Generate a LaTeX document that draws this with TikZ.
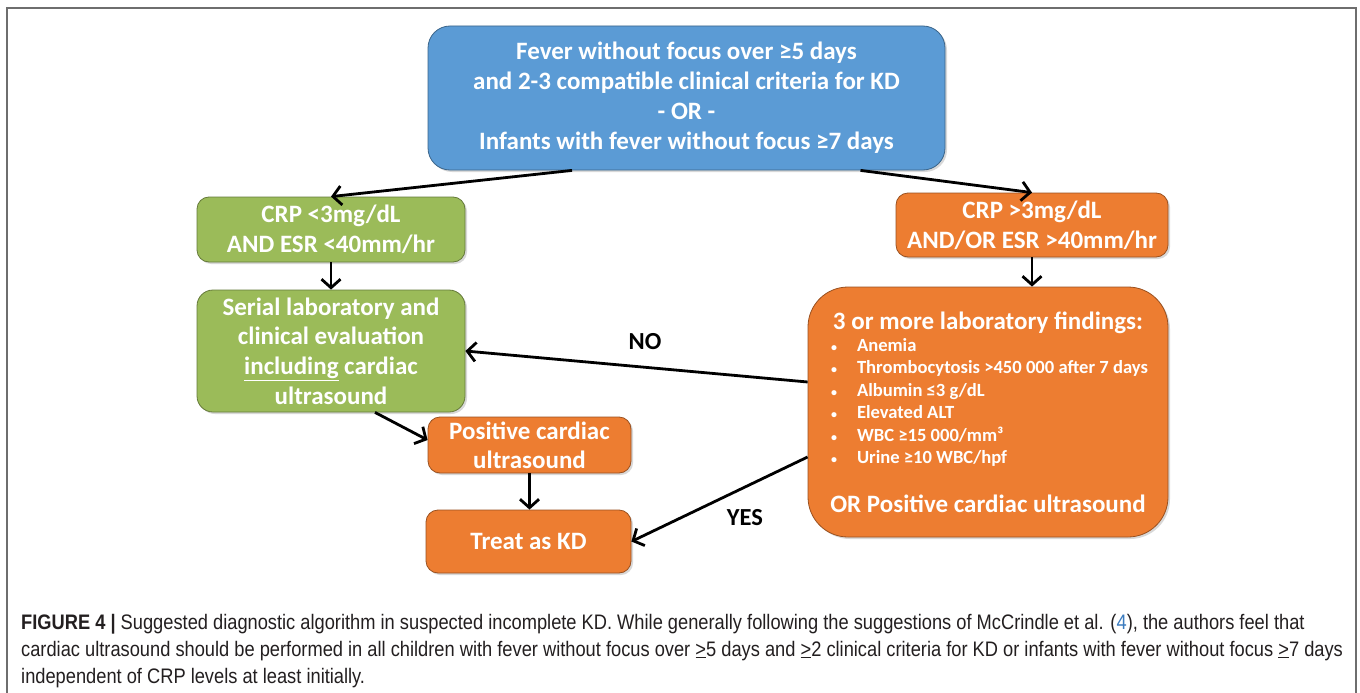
\documentclass[tikz,border=0pt]{standalone}
\usepackage{fontspec}
\setmainfont{Carlito}
\newfontfamily\capfont[FakeStretch=0.87]{Liberation Sans}
\usetikzlibrary{arrows.meta,calc,shadows}
\definecolor{kdblue}{HTML}{5B9BD5}
\definecolor{kdgreen}{HTML}{9BBB59}
\definecolor{kdorange}{HTML}{ED7D31}
\definecolor{captext}{HTML}{231F20}
\definecolor{linkblue}{HTML}{3B7BBF}
\definecolor{framegray}{HTML}{6E6E6E}
\newcommand{\bul}{\hspace*{15pt}\makebox[26pt][l]{\fontsize{12}{12}\selectfont •}}
\begin{document}
\begin{tikzpicture}[x=1pt,y=-1pt,
  box/.style={rectangle, rounded corners=12pt, draw=#1!65!black, line width=0.8pt,
    fill=#1, text=white, font=\fontsize{25}{30}\selectfont\bfseries, align=center,
    inner sep=0pt, drop shadow={shadow xshift=2pt,shadow yshift=-2pt,opacity=0.3}},
  conn/.style={line width=2.8pt, -{Straight Barb[length=8.5pt,width=19pt]}},
  lbl/.style={font=\fontsize{24.5}{28}\selectfont\bfseries, text=black, inner sep=0pt}
]
\useasboundingbox (0,0) rectangle (1360,693);
\fill[white] (0,0) rectangle (1360,693);
\draw[framegray, line width=1.5pt] (7,693) -- (7,8) -- (1356,8) -- (1356,693);

\node[box=kdblue, rounded corners=22pt, minimum width=517pt, minimum height=144pt] (top) at (686.5,98)
  {Fever without focus over ≥5 days\\and 2-3 compatible clinical criteria for KD\\- OR -\\Infants with fever without focus ≥7 days};

\node[box=kdgreen, minimum width=268pt, minimum height=65pt] (g1) at (331,229.5)
  {CRP <3mg/dL\\AND ESR <40mm/hr};
\node[box=kdgreen, rounded corners=16pt, minimum width=268pt, minimum height=122pt, font=\fontsize{25}{29.7}\selectfont\bfseries] (g2) at (331,351)
  {Serial laboratory and\\clinical evaluation\\\underline{including} cardiac\\ultrasound};

\node[box=kdorange, minimum width=272pt, minimum height=64pt] (o1) at (1032,225)
  {CRP >3mg/dL\\AND/OR ESR >40mm/hr};

\node[box=kdorange, rounded corners=40pt, minimum width=360pt, minimum height=250pt, align=left] (big) at (988,412) {%
\begin{minipage}{344pt}
\centering\fontsize{25}{27}\selectfont 3 or more laboratory findings:\par
\fontsize{18.6}{22.4}\selectfont\raggedright
\bul Anemia\par
\bul Thrombocytosis >450 000 after 7 days\par
\bul Albumin ≤3 g/dL\par
\bul Elevated ALT\par
\bul WBC ≥15 000/mm³\par
\bul Urine ≥10 WBC/hpf\par
\vspace{22pt}
\centering\fontsize{25}{27}\selectfont OR Positive cardiac ultrasound\par
\end{minipage}};

\node[box=kdorange, minimum width=203pt, minimum height=56pt, font=\fontsize{25}{29}\selectfont\bfseries] (pos) at (529.5,445)
  {Positive cardiac\\ultrasound};
\node[box=kdorange, minimum width=205pt, minimum height=63pt] (treat) at (528.5,541.5)
  {Treat as KD};

\node[lbl] (no) at (645,342) {NO};
\node[lbl] (yes) at (745,518) {YES};

\draw[conn] ($(top.south west)!0.279!(top.south east)$) -- (g1.north);
\draw[conn] ($(top.south west)!0.836!(top.south east)$) -- (o1.north);
\draw[conn] (g1.south) -- (g2.north);
\draw[conn] (o1.south) -- (o1.south |- big.north);
\draw[conn] ([yshift=30pt]big.west) -- (g2.east);
\draw[conn] ([yshift=-45pt]big.west) -- (treat.east);
\draw[conn] ([xshift=44pt]g2.south) -- ([yshift=5pt]pos.west);
\draw[conn] (pos.south) -- (pos.south |- treat.north);

\node[anchor=base west, align=left, inner sep=0pt, text=captext,
  font=\capfont\fontsize{21}{27}\selectfont] (cap) at (21,683)
  {{\bfseries FIGURE 4 |} Suggested diagnostic algorithm in suspected incomplete KD. While generally following the suggestions of McCrindle et al. ({\color{linkblue}4}), the authors feel that\\
  cardiac ultrasound should be performed in all children with fever without focus over \underline{>}5 days and \underline{>}2 clinical criteria for KD or infants with fever without focus \underline{>}7 days\\
  independent of CRP levels at least initially.};
\end{tikzpicture}
\end{document}
